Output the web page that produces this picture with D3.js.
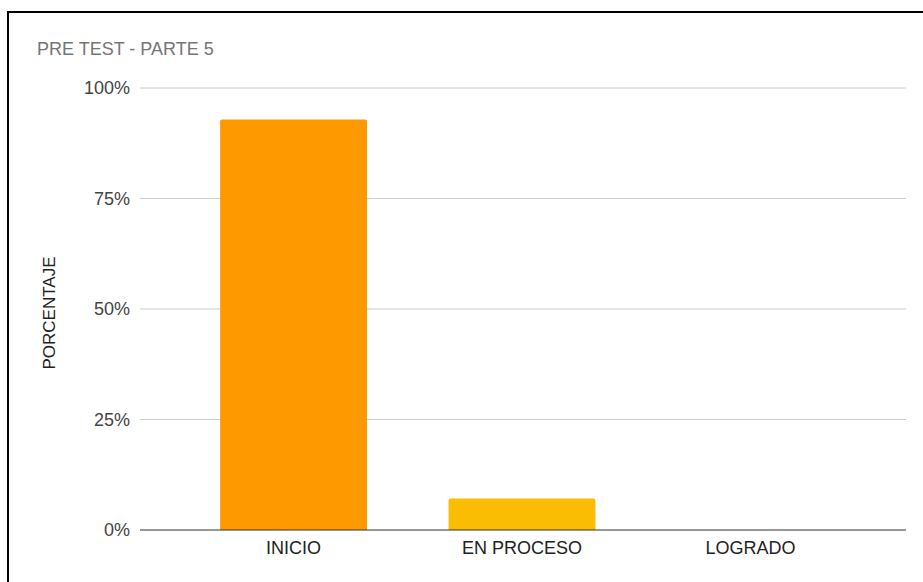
<!DOCTYPE html>
<html>
<head>
<meta charset="utf-8">
<script src="https://cdn.jsdelivr.net/npm/d3@7"></script>
<style>
  body { margin: 0; background: #fff; }
  svg { display: block; font-family: Arial, "Liberation Sans", sans-serif; }
</style>
</head>
<body>
<svg id="chart" width="923" height="582"></svg>
<script>
"use strict";
// chart data
const categories = ["INICIO", "EN PROCESO", "LOGRADO"];
const values = [92.9, 7.1, 0];
const barColors = ["#ff9900", "#fbbc04", "#34a853"];
const yTicks = [0, 25, 50, 75, 100];

const svg = d3.select("#chart");

// frame around the chart (cropped on right and bottom)
svg.append("path")
    .attr("d", "M8,582 V12 H923")
    .attr("fill", "none")
    .attr("stroke", "#000")
    .attr("stroke-width", 2);

const y = d3.scaleLinear().domain([0, 100]).range([530, 88]);
const x = d3.scaleBand().domain(categories).range([179, 865]).paddingInner(0.357).paddingOuter(0.18);

// gridlines
svg.append("g")
    .selectAll("line")
    .data(yTicks.filter(d => d > 0))
    .enter().append("line")
    .attr("x1", 140).attr("x2", 906)
    .attr("y1", d => y(d)).attr("y2", d => y(d))
    .attr("stroke", "#cccccc")
    .attr("stroke-width", 1);

// y tick labels
svg.append("g")
    .selectAll("text")
    .data(yTicks)
    .enter().append("text")
    .attr("x", 130)
    .attr("y", d => y(d))
    .attr("dy", "0.35em")
    .attr("text-anchor", "end")
    .attr("font-size", 18)
    .attr("fill", "#444")
    .text(d => d + "%");

// bars with slightly rounded top corners
const r = 2;
svg.append("g")
    .selectAll("path")
    .data(categories.map((c, i) => ({c: c, v: values[i], color: barColors[i]})))
    .enter().append("path")
    .filter(d => d.v > 0)
    .attr("fill", d => d.color)
    .attr("d", d => {
        let x0 = x(d.c), x1 = x0 + x.bandwidth(), y0 = y(0), y1 = y(d.v);
        return `M${x0},${y0} V${y1 + r} Q${x0},${y1} ${x0 + r},${y1} H${x1 - r} Q${x1},${y1} ${x1},${y1 + r} V${y0} Z`;
    });

// baseline
svg.append("line")
    .attr("x1", 140).attr("x2", 906)
    .attr("y1", y(0)).attr("y2", y(0))
    .attr("stroke", "#333")
    .attr("stroke-width", 1.2);

// x labels
svg.append("g")
    .selectAll("text")
    .data(categories)
    .enter().append("text")
    .attr("x", d => x(d) + x.bandwidth() / 2)
    .attr("y", 554)
    .attr("text-anchor", "middle")
    .attr("font-size", 18)
    .attr("fill", "#222")
    .text(d => d);

// title
svg.append("text")
    .attr("x", 37)
    .attr("y", 55)
    .attr("font-size", 18)
    .attr("fill", "#757575")
    .text("PRE TEST - PARTE 5");

// y axis title
svg.append("text")
    .attr("transform", "translate(55,313) rotate(-90)")
    .attr("text-anchor", "middle")
    .attr("font-size", 17)
    .attr("fill", "#222")
    .text("PORCENTAJE");
</script>
</body>
</html>
